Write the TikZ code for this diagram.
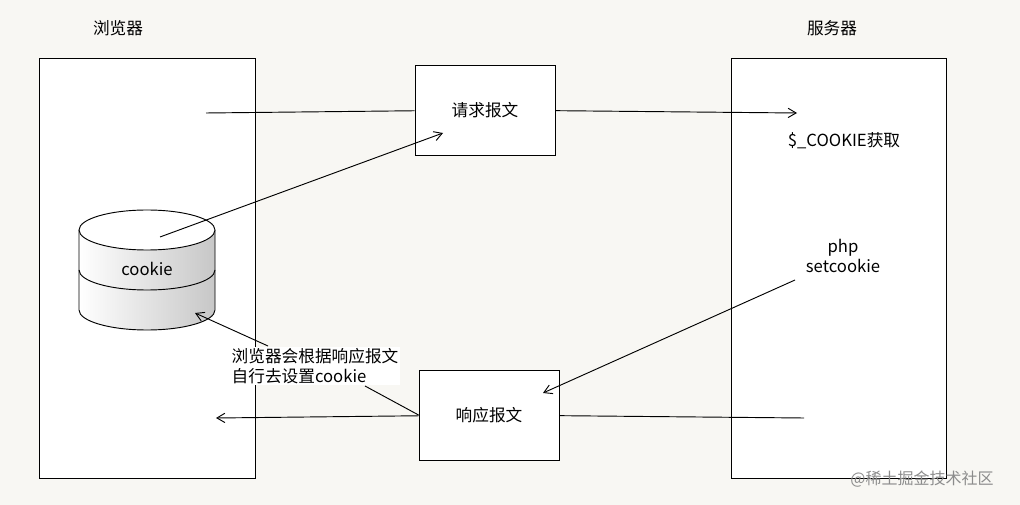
\documentclass[tikz,border=0pt]{standalone}
\usepackage{fontspec}
\setmainfont{Noto Sans CJK SC}
\usetikzlibrary{arrows.meta,shapes.geometric}
\definecolor{bgpaper}{HTML}{F8F7F3}
\tikzstyle{box} = [draw=black,fill=white,rectangle]
\tikzstyle{msg} = [draw=black,fill=white,rectangle,minimum width=105pt,minimum height=67.5pt,font=\fontsize{12.5}{14}\selectfont]
\tikzstyle{data} = [align=center,font=\fontsize{12.5}{15}\selectfont]
\tikzstyle{arr} = [-{Straight Barb[length=6pt,width=7pt]}]
\begin{document}
\begin{tikzpicture}[x=0.75pt,y=-0.75pt,line width=0.7pt]
				\useasboundingbox (0,0) rectangle (1020,505);
				\fill[bgpaper] (0,0) rectangle (1020,505);
				\draw[box] (39,58) rectangle (255,478);
				\draw[box] (731,58) rectangle (946,478);
				\node (bro) [data] at (118,28) {浏览器};
				\node (srv) [data] at (832,28) {服务器};
				\node (req) [msg] at (485,110) {请求报文};
				\node (rsp) [msg] at (489,415) {响应报文};
				% cookie store
				\shade[left color=white,right color=black!22] (79,230) -- (79,310) arc[start angle=180,end angle=0,x radius=68,y radius=20] -- (215,230) arc[start angle=0,end angle=-180,x radius=68,y radius=20];
				\draw (79,230) -- (79,310) arc[start angle=180,end angle=0,x radius=68,y radius=20] -- (215,230);
				\draw (79,270) arc[start angle=180,end angle=0,x radius=68,y radius=20];
				\draw[fill=white] (147,230) ellipse[x radius=68,y radius=20];
				\node (ck) [data] at (147,269) {cookie};
				\coordinate (ckin) at (195,313);
				\coordinate (ckout) at (160,237);
				\node (get) [data] at (844,141) {\$\_COOKIE获取};
				\node (set) [data] at (843,256) {php\\setcookie};
				\node (note) [data,fill=white,inner sep=1pt,align=left] at (315,366) {浏览器会根据响应报文\\自行去设置cookie};
				\coordinate (bs) at (206,113);
				\coordinate (se) at (797,113);
				\coordinate (ss) at (804,418);
				\coordinate (be) at (216,418);
				\coordinate (sf) at (795,280);
				\coordinate (nt) at (268,346);
				\coordinate (nb) at (365,386);
				\draw (bs) -- (req);
				\draw [arr] (req) -- (se);
				\draw [arr] (ckout) -- (443,133);
				\draw [arr] (sf) -- (543,393);
				\draw (ss) -- (rsp);
				\draw [arr] (rsp) -- (be);
				\draw [arr] (nt) -- (ckin);
				\draw (nb) -- (rsp.west);
				\node (mark) [data,text=black!45,font=\fontsize{12}{13}\selectfont] at (922,479) {@稀土掘金技术社区};
			\end{tikzpicture}
\end{document}
